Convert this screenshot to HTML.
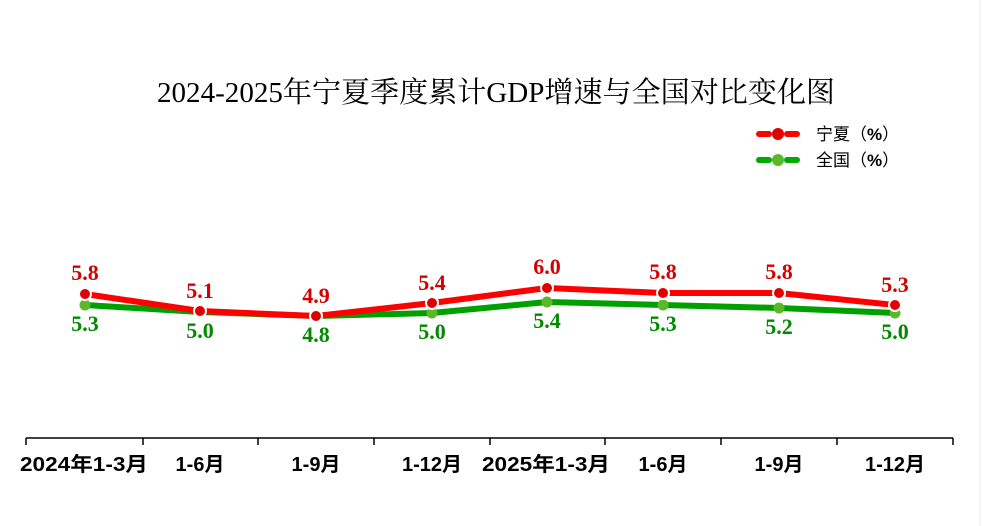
<!DOCTYPE html>
<html><head><meta charset="utf-8"><style>
body{margin:0;background:#fff;}
svg{display:block;font-family:"Liberation Serif","Noto Serif CJK SC",serif;}
</style></head><body>
<svg width="990" height="526" viewBox="0 0 990 526">
<rect width="990" height="526" fill="#fff"/>
<line x1="980" y1="0" x2="980" y2="526" stroke="#e8e8e8"/>
<text x="496" y="102" text-anchor="middle" font-size="29" fill="#000" textLength="678" lengthAdjust="spacingAndGlyphs">2024-2025年宁夏季度累计GDP增速与全国对比变化图</text>
<!-- legend -->
<g font-family="'Liberation Sans','Noto Sans CJK SC',sans-serif" font-size="17" fill="#000">
<line x1="759" y1="134" x2="769" y2="134" stroke="#f00" stroke-width="6" stroke-linecap="round"/>
<line x1="787" y1="134" x2="797" y2="134" stroke="#f00" stroke-width="6" stroke-linecap="round"/>
<circle cx="778" cy="134" r="6" fill="#e00000"/>
<text x="816" y="140">宁夏（<tspan font-weight="bold">%</tspan>）</text>
<line x1="759" y1="160" x2="769" y2="160" stroke="#0a0" stroke-width="6" stroke-linecap="round"/>
<line x1="787" y1="160" x2="797" y2="160" stroke="#0a0" stroke-width="6" stroke-linecap="round"/>
<circle cx="778" cy="160" r="6" fill="#5cb82a"/>
<text x="816" y="166">全国（<tspan font-weight="bold">%</tspan>）</text>
</g>
<!-- axis -->
<line x1="26" y1="438" x2="953" y2="438" stroke="#000" stroke-width="1.5"/>
<g stroke="#000" stroke-width="1.5">
<line x1="26" y1="438" x2="26" y2="445"/><line x1="143" y1="438" x2="143" y2="445"/>
<line x1="258" y1="438" x2="258" y2="445"/><line x1="374" y1="438" x2="374" y2="445"/>
<line x1="490" y1="438" x2="490" y2="445"/><line x1="605" y1="438" x2="605" y2="445"/>
<line x1="721" y1="438" x2="721" y2="445"/><line x1="837" y1="438" x2="837" y2="445"/>
<line x1="953" y1="438" x2="953" y2="445"/>
</g>
<g font-family="'Liberation Sans','Noto Sans CJK SC',sans-serif" font-size="20" font-weight="bold" text-anchor="middle" fill="#000">
<text x="84" y="471" textLength="128" lengthAdjust="spacingAndGlyphs">2024年1-3月</text><text x="200" y="471">1-6月</text>
<text x="316" y="471">1-9月</text><text x="432" y="471">1-12月</text>
<text x="546" y="471" textLength="128" lengthAdjust="spacingAndGlyphs">2025年1-3月</text><text x="663" y="471">1-6月</text>
<text x="779" y="471">1-9月</text><text x="895" y="471">1-12月</text>
</g>
<!-- green -->
<polyline points="85,305 200,312 316,316 432,313 547,302 663,305 779,308 895,313" fill="none" stroke="#00a000" stroke-width="6" stroke-linejoin="round"/>
<!-- red -->
<polyline points="85,294 200,311 316,316 432,303 547,288 663,293 779,293 895,305" fill="none" stroke="#ff0000" stroke-width="6" stroke-linejoin="round"/>
<g fill="#5cb82a">
<circle cx="85" cy="305" r="5.5"/><circle cx="200" cy="312" r="5.5"/><circle cx="316" cy="316" r="5.5"/><circle cx="432" cy="313" r="5.5"/>
<circle cx="547" cy="302" r="5.5"/><circle cx="663" cy="305" r="5.5"/><circle cx="779" cy="308" r="5.5"/><circle cx="895" cy="313" r="5.5"/>
</g>
<g fill="#e00000" stroke="#fff" stroke-width="2">
<circle cx="85" cy="294" r="6"/><circle cx="200" cy="311" r="6"/><circle cx="316" cy="316" r="6"/><circle cx="432" cy="303" r="6"/>
<circle cx="547" cy="288" r="6"/><circle cx="663" cy="293" r="6"/><circle cx="779" cy="293" r="6"/><circle cx="895" cy="305" r="6"/>
</g>
<g font-size="22" font-weight="bold" text-anchor="middle" fill="#d40000">
<text x="85" y="280">5.8</text><text x="200" y="298">5.1</text><text x="316" y="303">4.9</text><text x="432" y="290">5.4</text>
<text x="547" y="274">6.0</text><text x="663" y="279">5.8</text><text x="779" y="279">5.8</text><text x="895" y="292">5.3</text>
</g>
<g font-size="22" font-weight="bold" text-anchor="middle" fill="#008a00">
<text x="85" y="331">5.3</text><text x="200" y="338">5.0</text><text x="316" y="342">4.8</text><text x="432" y="339">5.0</text>
<text x="547" y="328">5.4</text><text x="663" y="331">5.3</text><text x="779" y="334">5.2</text><text x="895" y="339">5.0</text>
</g>
</svg>
</body></html>
